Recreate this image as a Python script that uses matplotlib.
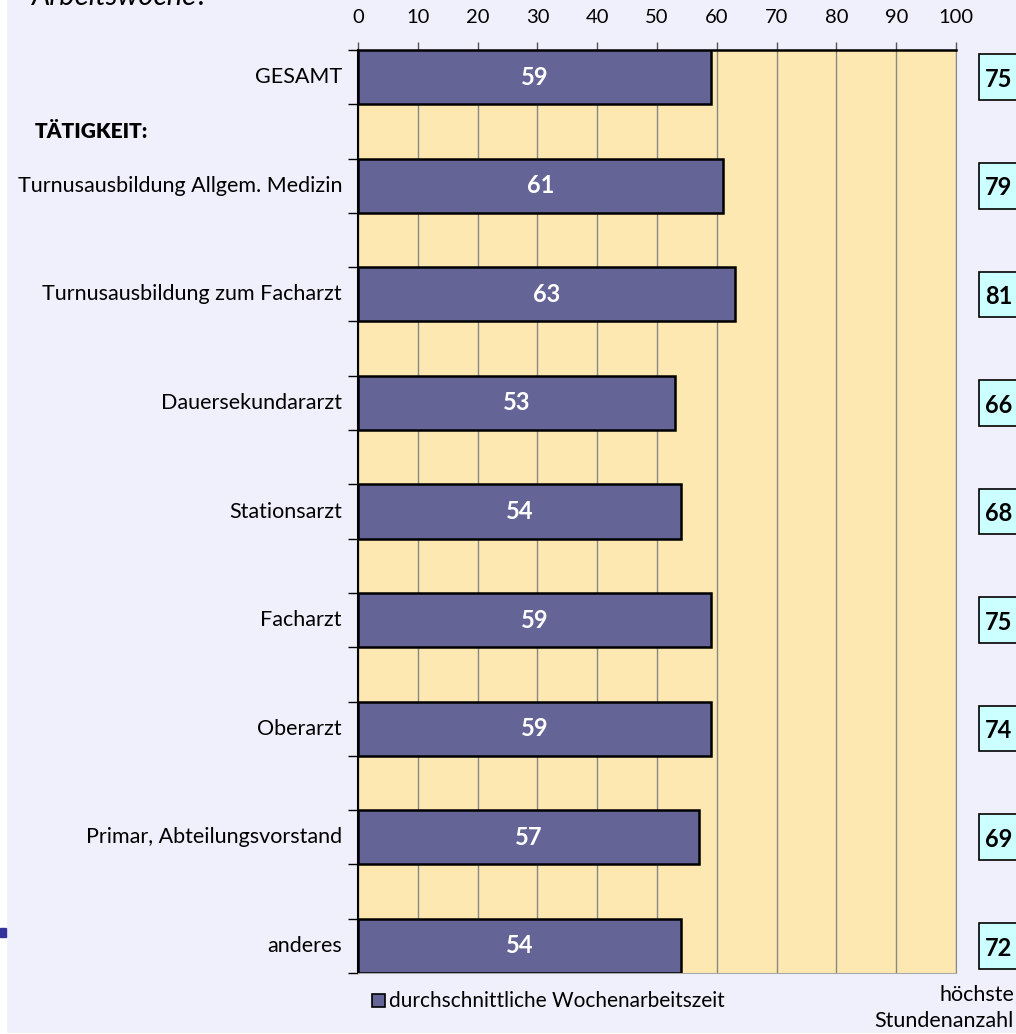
import matplotlib
matplotlib.use("Agg")
import matplotlib.pyplot as plt
import matplotlib.transforms as mtransforms
from matplotlib.patches import Rectangle

plt.rcParams['font.family'] = ['Lato', 'DejaVu Sans']

categories = ["GESAMT", "Turnusausbildung Allgem. Medizin", "Turnusausbildung zum Facharzt",
              "Dauersekundararzt", "Stationsarzt", "Facharzt", "Oberarzt",
              "Primar, Abteilungsvorstand", "anderes"]
avg_hours = [59, 61, 63, 53, 54, 59, 59, 57, 54]
max_hours = [75, 79, 81, 66, 68, 75, 74, 69, 72]
x_ticks = [0, 10, 20, 30, 40, 50, 60, 70, 80, 90, 100]

W, H = 1016, 1034
BG = "#F0F0FC"
BAR = "#646496"
YEL = "#FDE8B2"
CYAN = "#CCFFFF"
FS = 15.5

fig = plt.figure(figsize=(W / 100, H / 100), dpi=100, facecolor=BG)
# white strip at left edge
fig.patches.append(Rectangle((0, 0), 6 / W, 1, transform=fig.transFigure, color="white", zorder=0))
fig.patches.append(Rectangle((0, 0), 1, 1 / H, transform=fig.transFigure, color="white", zorder=0))
fig.patches.append(Rectangle((0, 1 - 937 / H), 6 / W, 9 / H, transform=fig.transFigure,
                             color="#333399", zorder=1))

ax = fig.add_axes([358 / W, 1 - 973 / H, (956 - 358) / W, (973 - 50) / H])
ax.set_facecolor(YEL)

y = list(range(len(categories)))
ax.barh(y, avg_hours, height=0.5, color=BAR, edgecolor="black", linewidth=1.8, zorder=3)
for yi, v in zip(y, avg_hours):
    ax.text(v / 2, yi, str(v), ha="center", va="center", color="white",
            fontsize=17, fontweight="bold", zorder=4)

ax.set_xlim(0, 100)
ax.set_ylim(len(categories) - 0.75, -0.25)
ax.set_xticks(x_ticks)
ax.xaxis.tick_top()
ax.tick_params(axis="x", top=True, bottom=False, direction="out", length=6,
               width=1, color="#555555", labelsize=14.5, pad=11)
ax.grid(axis="x", color="#888888", linewidth=1, zorder=1)
ax.set_axisbelow(True)

edges = []
for yi in y:
    edges += [yi - 0.25, yi + 0.25]
ax.set_yticks(edges)
ax.set_yticklabels([])
ax.tick_params(axis="y", left=True, direction="out", length=7, width=1, color="black")
for yi, c in zip(y, categories):
    ax.annotate(c, xy=(0, yi), xycoords=("axes fraction", "data"), xytext=(-16, 0),
                textcoords="offset pixels", ha="right", va="center", fontsize=FS)

ax.spines["top"].set_color("black")
ax.spines["top"].set_linewidth(1.8)
ax.spines["left"].set_color("black")
ax.spines["left"].set_linewidth(1.5)
ax.spines["right"].set_color("#888888")
ax.spines["bottom"].set_color("#aaaaaa")

ax.text(-0.54, 0.5, "TÄTIGKEIT:", transform=mtransforms.blended_transform_factory(ax.transAxes, ax.transData),
        ha="left", va="center", fontsize=15, fontweight="heavy")

# max-hours boxes
bt = mtransforms.blended_transform_factory(fig.transFigure, ax.transData)
for yi, m in zip(y, max_hours):
    r = Rectangle((979 / W, yi - 0.21), 60 / W, 0.42, transform=bt, facecolor=CYAN,
                  edgecolor="black", linewidth=1.2, clip_on=False, zorder=5)
    fig.patches.append(r)
    fig.text(985 / W, yi + 0.02, str(m), transform=bt,
             ha="left", va="center", fontsize=17, fontweight="bold", zorder=6)

# legend
fig.patches.append(Rectangle((372 / W, 1 - 1007 / H), 13 / W, 13 / H, transform=fig.transFigure,
                             facecolor=BAR, edgecolor="black", linewidth=1.2))
fig.text(389 / W, 1 - 1001 / H, "durchschnittliche Wochenarbeitszeit", ha="left", va="center", fontsize=15)
fig.text(1014 / W, 1 - 995 / H, "höchste", ha="right", va="center", fontsize=FS)
fig.text(1014 / W, 1 - 1021 / H, "Stundenanzahl", ha="right", va="center", fontsize=FS)

# cut-off title (partially outside the top edge, as in the reference)
fig.text(32 / W, 1 - 5 / H, "Arbeitswoche?", ha="left", va="baseline", fontsize=21, style="italic")

fig.savefig("out.png", dpi=100, facecolor=BG)
